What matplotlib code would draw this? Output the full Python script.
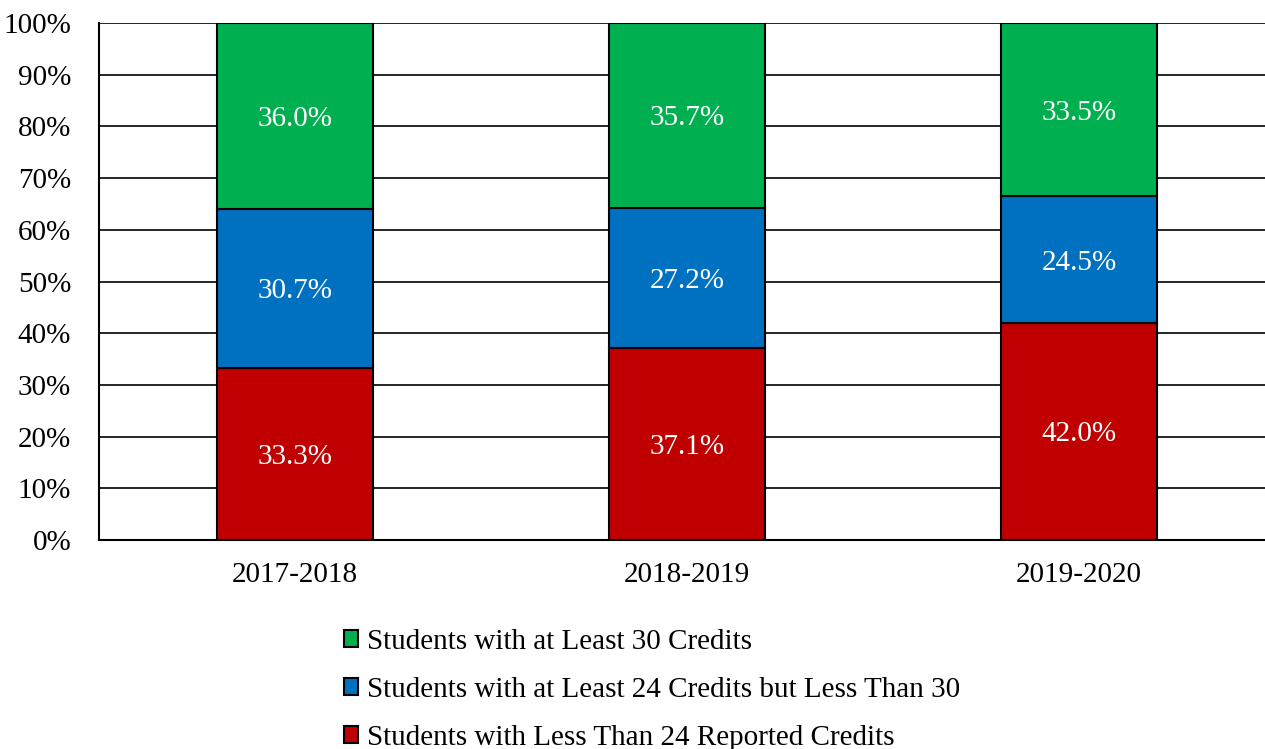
import matplotlib.pyplot as plt
import numpy as np

plt.rcParams['font.family'] = ['Liberation Serif', 'DejaVu Serif']

years = ['2017-2018', '2018-2019', '2019-2020']
less_24 = [33.3, 37.1, 42.0]
between_24_30 = [30.7, 27.2, 24.5]
least_30 = [36.0, 35.7, 33.5]

series = [
    ('Students with Less Than 24 Reported Credits', less_24, '#C00000'),
    ('Students with at Least 24 Credits but Less Than 30', between_24_30, '#0070C0'),
    ('Students with at Least 30 Credits', least_30, '#00B050'),
]

FS = 21

fig = plt.figure(figsize=(12.65, 7.49), dpi=100)
ax = fig.add_axes([99 / 1265, 1 - 540 / 749, 1176 / 1265, 517 / 749])

x = np.arange(len(years))
bottom = np.zeros(len(years))
handles = []
for name, vals, color in series:
    vals = np.array(vals)
    bars = ax.bar(x, vals, 0.4, bottom=bottom, color=color, edgecolor='black',
                  linewidth=1.5, label=name, zorder=3)
    handles.append(bars)
    for xi, b, v in zip(x, bottom, vals):
        ax.text(xi, b + v / 2, f'{v:.1f}%', ha='center', va='center_baseline',
                color='white', fontsize=FS, zorder=4)
    bottom += vals

ax.set_xlim(-0.5, 2.5)
ax.set_ylim(0, 100)
ax.set_yticks(np.arange(0, 101, 10))
ax.set_yticklabels([f'{v}%' for v in range(0, 101, 10)])
ax.set_xticks(x)
ax.set_xticklabels(years)
ax.tick_params(axis='both', length=0, labelsize=FS)
ax.tick_params(axis='y', pad=20)
ax.tick_params(axis='x', pad=16)
ax.grid(axis='y', color='black', linewidth=1.2, zorder=0)
ax.set_axisbelow(True)
for s in ['top', 'right']:
    ax.spines[s].set_visible(False)
for s in ['left', 'bottom']:
    ax.spines[s].set_linewidth(1.5)

fig.legend(handles[::-1], [h.get_label() for h in handles[::-1]],
           loc='upper left', bbox_to_anchor=(332 / 1265, 1 - 617 / 749),
           frameon=False, fontsize=FS, handlelength=0.5, handleheight=0.5,
           handletextpad=0.3, labelspacing=0.76, borderaxespad=0)

fig.savefig('out.png', dpi=100)
